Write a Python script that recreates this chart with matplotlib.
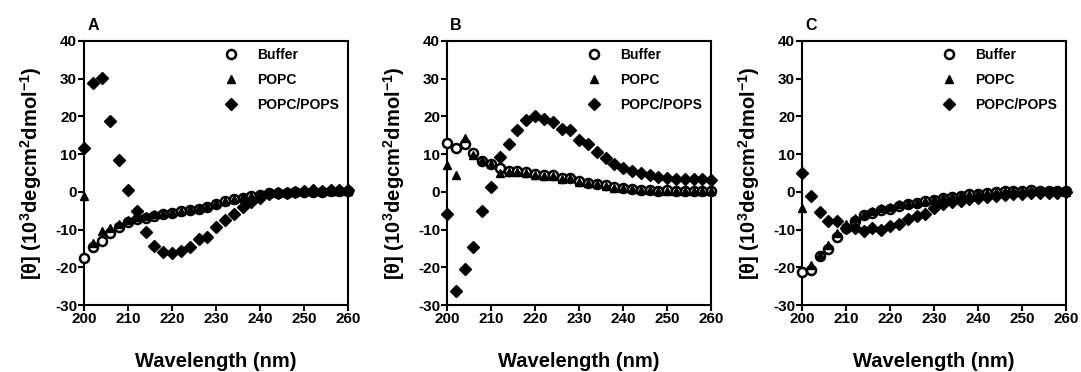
import matplotlib
matplotlib.use("Agg")
import matplotlib.pyplot as plt
import numpy as np

plt.rcParams['font.family'] = ['Liberation Sans', 'DejaVu Sans']
plt.rcParams['font.weight'] = 'bold'
plt.rcParams['axes.unicode_minus'] = False
plt.rcParams['mathtext.fontset'] = 'custom'
plt.rcParams['mathtext.rm'] = 'Liberation Sans:bold'
plt.rcParams['mathtext.it'] = 'Liberation Sans:bold'
plt.rcParams['mathtext.bf'] = 'Liberation Sans:bold'

wavelength = list(range(200, 261, 2))

# Panel A
a_buffer = [-17.5, -14.5, -13.0, -11.0, -9.2, -8.0, -7.3, -6.8, -6.3, -6.0, -5.5, -5.2, -4.8, -4.5, -4.0,
            -3.2, -2.5, -2.0, -1.5, -1.2, -0.8, -0.4, -0.3, -0.2, -0.1, 0.0, 0.0, 0.0, 0.1, 0.2, 0.3]
a_popc = [-1.0, -13.5, -10.5, -9.5, -8.5, -7.5, -6.6, -6.3, -6.0, -5.7, -5.3, -5.0, -4.6, -4.3, -3.8,
          -3.0, -2.4, -1.8, -1.3, -1.0, -0.6, -0.3, -0.2, -0.1, 0.0, 0.1, 0.1, 0.1, 0.2, 0.3, 0.3]
a_pops = [11.5, 28.8, 30.1, 18.8, 8.4, 0.4, -5.0, -10.6, -14.4, -15.9, -16.2, -15.7, -14.6, -12.6, -11.9,
          -9.4, -7.5, -6.0, -4.1, -2.6, -1.5, -0.6, -0.3, -0.2, 0.0, 0.2, 0.4, 0.3, 0.5, 0.6, 0.6]

# Panel B
b_buffer = [13.0, 11.7, 12.7, 10.3, 8.3, 7.4, 6.4, 5.6, 5.4, 5.2, 4.8, 4.5, 4.5, 3.7, 3.8,
            2.8, 2.4, 2.1, 1.7, 1.2, 1.0, 0.8, 0.6, 0.5, 0.3, 0.4, 0.3, 0.2, 0.3, 0.2, 0.2]
b_popc = [7.2, 4.4, 14.3, 9.8, 8.5, 7.5, 5.0, 5.3, 5.2, 5.0, 4.6, 4.3, 4.3, 3.5, 3.6,
          2.6, 2.3, 2.0, 1.5, 1.1, 0.9, 0.7, 0.5, 0.4, 0.2, 0.3, 0.2, 0.1, 0.2, 0.1, 0.1]
b_pops = [-5.8, -26.2, -20.5, -14.6, -5.0, 1.4, 9.3, 12.8, 16.3, 19.0, 20.1, 19.3, 18.6, 16.7, 16.3,
          13.8, 12.6, 10.6, 9.0, 7.5, 6.4, 5.6, 5.1, 4.4, 3.9, 3.8, 3.5, 3.3, 3.4, 3.4, 3.2]

# Panel C
c_buffer = [-21.3, -20.8, -17.0, -15.2, -12.0, -9.5, -7.8, -6.2, -5.5, -4.8, -4.5, -3.8, -3.2, -3.0, -2.5,
            -2.2, -1.5, -1.3, -1.0, -0.7, -0.5, -0.2, 0.0, 0.1, 0.2, 0.3, 0.4, 0.2, 0.3, 0.2, 0.1]
c_popc = [-4.2, -19.5, -16.8, -14.0, -11.0, -8.5, -6.8, -5.8, -5.0, -4.3, -4.0, -3.3, -2.9, -2.7, -2.3,
          -2.0, -1.4, -1.2, -0.9, -0.6, -0.4, -0.2, 0.0, 0.1, 0.1, 0.2, 0.3, 0.1, 0.2, 0.1, 0.0]
c_pops = [5.0, -1.0, -5.4, -7.8, -7.8, -9.7, -9.6, -10.4, -9.7, -10.0, -9.1, -8.4, -7.3, -6.3, -5.9,
          -4.3, -3.3, -2.7, -2.4, -2.0, -1.6, -1.3, -1.0, -0.8, -0.6, -0.5, -0.4, -0.3, -0.2, -0.2, -0.1]

panels = [("A", a_buffer, a_popc, a_pops),
          ("B", b_buffer, b_popc, b_pops),
          ("C", c_buffer, c_popc, c_pops)]
series_labels = ["Buffer", "POPC", "POPC/POPS"]
xticks = [200, 210, 220, 230, 240, 250, 260]
yticks = [-30, -20, -10, 0, 10, 20, 30, 40]

fig = plt.figure(figsize=(10.81, 3.72), dpi=100)
lefts = [0.0777, 0.4135, 0.7419]
width = 0.2445
bottom = 0.1801
height = 0.7097

for (letter, buf, popc, pops), left in zip(panels, lefts):
    ax = fig.add_axes([left, bottom, width, height])
    ax.plot(wavelength, buf, linestyle='none', marker='o', markersize=6.5, markerfacecolor='white',
            markeredgecolor='black', markeredgewidth=1.8, color='black', label=series_labels[0], clip_on=False, zorder=3)
    ax.plot(wavelength, popc, linestyle='none', marker='^', markersize=6, color='black',
            label=series_labels[1], clip_on=False, zorder=4)
    ax.plot(wavelength, pops, linestyle='none', marker='D', markersize=5.8, color='black',
            label=series_labels[2], clip_on=False, zorder=5)
    ax.set_xlim(200, 260)
    ax.set_ylim(-30, 40)
    ax.set_xticks(xticks)
    ax.set_yticks(yticks)
    ax.tick_params(direction='out', length=4, width=1.5, labelsize=11, pad=1)
    for lab in ax.get_xticklabels() + ax.get_yticklabels():
        lab.set_fontweight('bold')
    for sp in ax.spines.values():
        sp.set_linewidth(1.5)
    ax.set_xlabel("Wavelength (nm)", fontsize=14.5, fontweight='bold', labelpad=19)
    ax.set_ylabel(r"[θ] (10$^3$degcm$^2$dmol$^{-1}$)", fontsize=14.5, fontweight='bold', labelpad=8)
    leg = ax.legend(loc='upper right', frameon=False, fontsize=10, handletextpad=1.35,
                    labelspacing=0.8, borderaxespad=0.3, handlelength=1.0,
                    bbox_to_anchor=(1.0, 1.01))
    for t in leg.get_texts():
        t.set_fontweight('bold')
    ax.text(0.012, 1.03, letter, transform=ax.transAxes, fontsize=11.5, fontweight='bold',
            ha='left', va='bottom')

fig.savefig("out.png", dpi=100)
